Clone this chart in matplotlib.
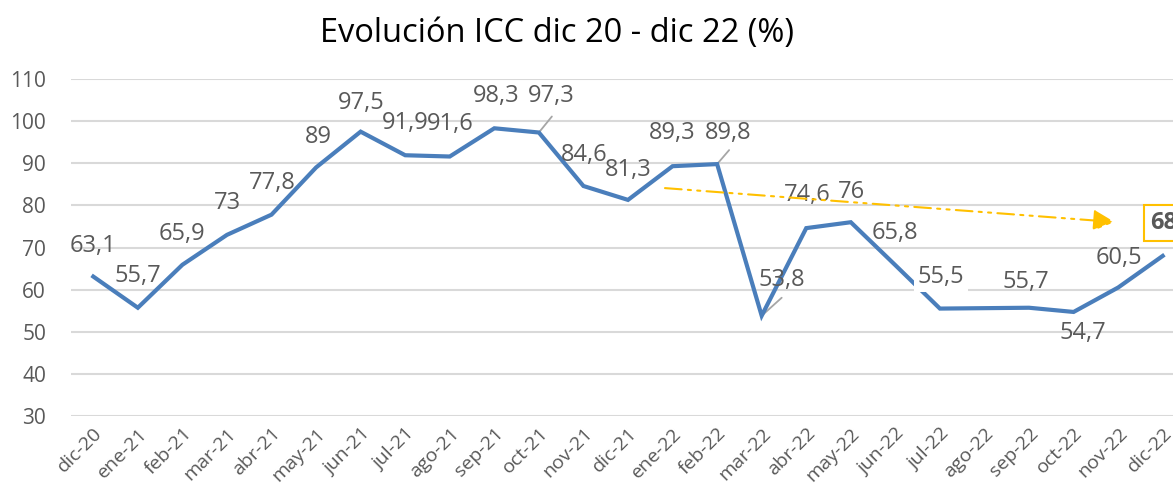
import matplotlib
matplotlib.use('Agg')
import matplotlib.pyplot as plt

plt.rcParams['font.family'] = ['Open Sans', 'DejaVu Sans']

months = ['dic-20', 'ene-21', 'feb-21', 'mar-21', 'abr-21', 'may-21', 'jun-21',
          'jul-21', 'ago-21', 'sep-21', 'oct-21', 'nov-21', 'dic-21', 'ene-22',
          'feb-22', 'mar-22', 'abr-22', 'may-22', 'jun-22', 'jul-22', 'ago-22',
          'sep-22', 'oct-22', 'nov-22', 'dic-22']
icc = [63.1, 55.7, 65.9, 73, 77.8, 89, 97.5, 91.9, 91.6, 98.3, 97.3, 84.6,
       81.3, 89.3, 89.8, 53.8, 74.6, 76, 65.8, 55.5, 55.6, 55.7, 54.7, 60.5, 68]
# ago-22 carries no label on the chart
show_label = [True] * len(icc)
show_label[20] = False

# trend arrow (start/end in data units: index, value)
trend_start = (12.83, 84.1)
trend_end = (22.92, 76.05)

# label offsets in pixels from each point (dx, dy)
offsets = [(0, 31), (0, 32), (0, 31), (0, 32), (1, 32), (2, 30), (1, 29),
           (0, 32), (0, 33), (2, 32), (12, 36), (1, 31), (0, 30), (0, 33),
           (11, 31), (20, 36), (1, 33), (1, 30), (0, 32), (1, 32), (0, 30),
           (-3, 26), (9, -21), (1, 30), (0, 0)]
leaders = {10: (13, 16), 14: (12, 14), 15: (20, 18)}

BLUE = '#4A7EBB'
GOLD = '#FFC000'
TXT = '#595959'

fig = plt.figure(figsize=(11.73, 4.92), dpi=100)
ax = fig.add_axes([71 / 1173, 76 / 492, 1114 / 1173, 337 / 492])

x = list(range(len(months)))
ax.plot(x, icc, color=BLUE, linewidth=3.0, solid_joinstyle='miter', zorder=3, clip_on=False)

ax.set_xlim(-0.5, 24.5)
ax.set_ylim(30, 110)
ax.set_yticks(range(30, 111, 10))
ax.set_xticks(x)
ax.set_xticklabels(months, rotation=45, ha='right', rotation_mode='anchor',
                   fontsize=14, color=TXT)
ax.tick_params(axis='y', labelsize=15, labelcolor=TXT, length=0, pad=18)
ax.tick_params(axis='x', length=0, pad=6)
ax.grid(True, axis='y', color='#D9D9D9', linewidth=1.5)
ax.set_axisbelow(True)
for s in ax.spines.values():
    s.set_visible(False)

# trend arrow
ax.annotate('', xy=trend_end, xytext=trend_start,
            arrowprops=dict(arrowstyle='-|>,head_length=1.3,head_width=0.65',
                            color=GOLD, linewidth=1.5, linestyle=(0, (8, 3, 1.5, 3, 1.5, 3)),
                            shrinkA=0, shrinkB=0), zorder=5)

def fmt(v):
    s = ('%g' % v)
    return s.replace('.', ',')

for i, v in enumerate(icc):
    if not show_label[i] or i == len(icc) - 1:
        continue
    dx, dy = offsets[i]
    bbox = None
    if i == 19:
        bbox = dict(boxstyle='square,pad=0.15', facecolor='white', edgecolor='none')
    ax.annotate(fmt(v), xy=(i, v), xytext=(dx, dy), textcoords='offset pixels',
                ha='center', va='center', fontsize=17, color=TXT, bbox=bbox, zorder=4)
    if i in leaders:
        lx, ly = leaders[i]
        ax.annotate('', xy=(i, v), xytext=(lx, ly), textcoords='offset pixels',
                    arrowprops=dict(arrowstyle='-', color='#A6A6A6', linewidth=1.3,
                                    shrinkA=0, shrinkB=1), zorder=2)

# last value highlighted in a boxed label
ax.annotate(fmt(icc[-1]), xy=(24, icc[-1]), xytext=(-13, 33), textcoords='offset pixels',
            ha='left', va='center', fontsize=17, fontweight='bold', color=TXT,
            bbox=dict(boxstyle='square,pad=0.25', facecolor='white', edgecolor=GOLD,
                      linewidth=1.5), zorder=6, annotation_clip=False)

fig.text(557 / 1173, 1 - 33 / 492, 'Evolución ICC dic 20 - dic 22 (%)',
         ha='center', va='center', fontsize=23.5, color='black')

fig.savefig('out.png', dpi=100)
